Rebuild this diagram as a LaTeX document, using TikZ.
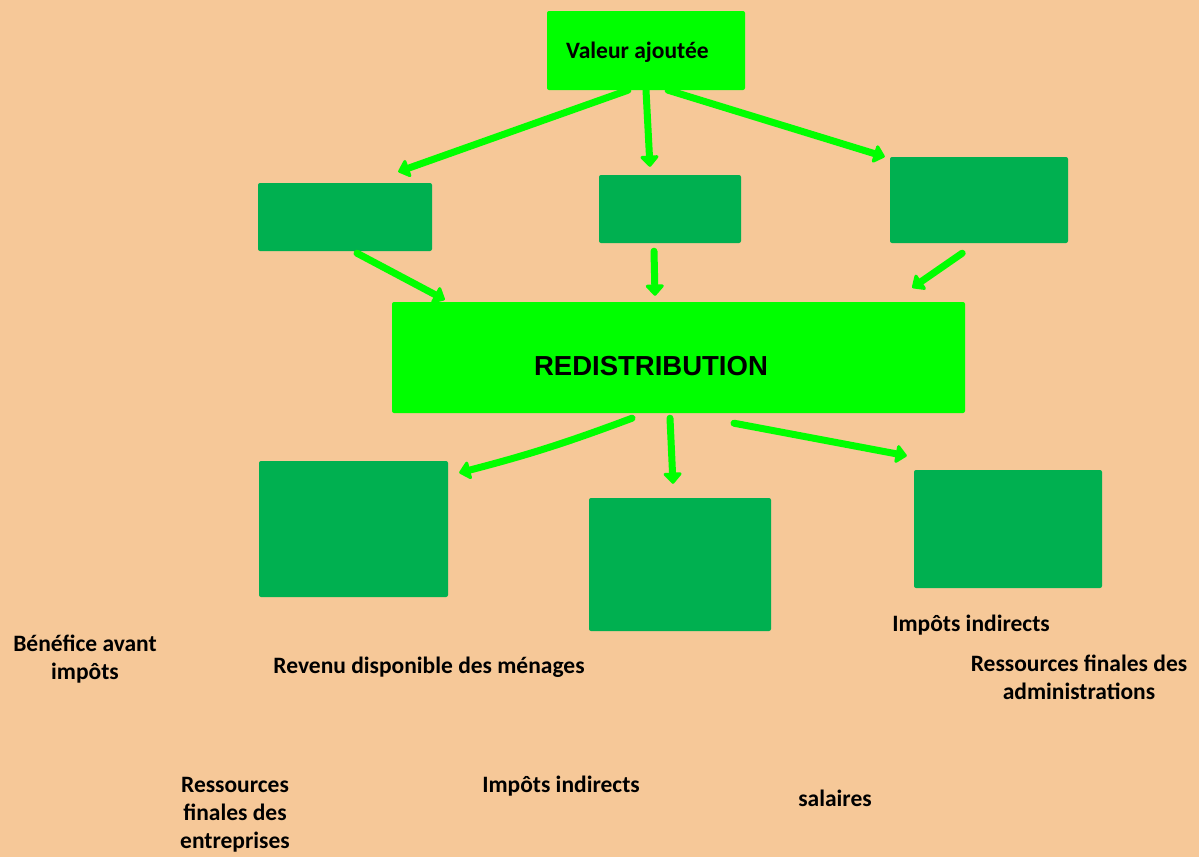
\documentclass[tikz,border=0pt]{standalone}
\usepackage{fontspec}
\setmainfont{Carlito}
\newfontfamily\arialfont{Liberation Sans}
\usetikzlibrary{arrows.meta}
\definecolor{bgpeach}{HTML}{F6C898}
\definecolor{brightgreen}{HTML}{00FF00}
\definecolor{darkgreen}{HTML}{00B050}
\tikzset{
  brightbox/.style={fill=brightgreen, draw=none, rounded corners=2pt, inner sep=0pt},
  darkbox/.style={fill=darkgreen, draw=none, rounded corners=2pt, inner sep=0pt},
  arr/.style={draw=brightgreen, line width=7pt, line cap=round, line join=round,
    -{Triangle[length=12pt,width=21pt,round]}},
  lbl/.style={font=\fontsize{23.5}{28}\selectfont\bfseries, align=center, inner sep=0pt, text=black},
}
\begin{document}
\begin{tikzpicture}[x=1pt,y=-1pt]
\fill[bgpeach] (0,0) rectangle (1199,857);
\useasboundingbox (0,0) rectangle (1199,857);
% boxes
\node[brightbox, minimum width=198pt, minimum height=79pt] (va) at (646,50.5) {};
\node[lbl, anchor=west] (vatxt) at (566,52) {Valeur ajoutée};
\node[darkbox, minimum width=174pt, minimum height=68pt] (b1) at (345,217) {};
\node[darkbox, minimum width=142pt, minimum height=68pt] (b2) at (670,209) {};
\node[darkbox, minimum width=178pt, minimum height=86pt] (b3) at (979,200) {};
\node[brightbox, minimum width=573pt, minimum height=111pt] (red) at (678.5,357.5) {};
\node[font=\arialfont\bfseries\fontsize{27.5}{30}\selectfont, inner sep=0pt] (redtxt) at (651,366) {REDISTRIBUTION};
\node[darkbox, minimum width=189pt, minimum height=136pt] (c1) at (353.5,529) {};
\node[darkbox, minimum width=182pt, minimum height=133pt] (c2) at (680,564.5) {};
\node[darkbox, minimum width=188pt, minimum height=118pt] (c3) at (1008,529) {};
% arrows
\draw[arr] ([xshift=-18pt]va.south) -- ([xshift=-34pt,yshift=11pt]b1.north east);
\draw[arr] ([xshift=0pt]va.south) -- ([xshift=-20pt,yshift=8pt]b2.north);
\draw[arr] ([xshift=22pt]va.south) -- ([xshift=-5pt]b3.north west);
\draw[arr] ([xshift=12pt,yshift=-2pt]b1.south) -- ([xshift=53pt,yshift=2pt]red.north west);
\draw[arr] ([xshift=-16pt,yshift=-8pt]b2.south) -- ([xshift=-23.5pt,yshift=6pt]red.north);
\draw[arr] ([xshift=-106pt,yshift=-10pt]b3.south east) -- ([xshift=-53pt,yshift=14pt]red.north east);
\draw[arr] ([xshift=-46.5pt,yshift=-5pt]red.south) to[bend left=3] ([xshift=11pt,yshift=-12pt]c1.north east);
\draw[arr] ([xshift=-8.5pt,yshift=-5pt]red.south) -- ([xshift=-7pt,yshift=14pt]c2.north);
\draw[arr] ([xshift=55.5pt,yshift=-10pt]red.south) -- ([xshift=-7pt,yshift=14pt]c3.north west);
% labels
\node[lbl] (t1) at (85,659) {Bénéfice avant\\impôts};
\node[lbl] (t2) at (429,667) {Revenu disponible des ménages};
\node[lbl] (t3) at (971,625) {Impôts indirects};
\node[lbl] (t4) at (1079,677) {Ressources finales des\\administrations};
\node[lbl] (t5) at (235,815) {Ressources\\finales des\\entreprises};
\node[lbl] (t6) at (561,786) {Impôts indirects};
\node[lbl] (t7) at (835,798) {salaires};
\end{tikzpicture}
\end{document}
